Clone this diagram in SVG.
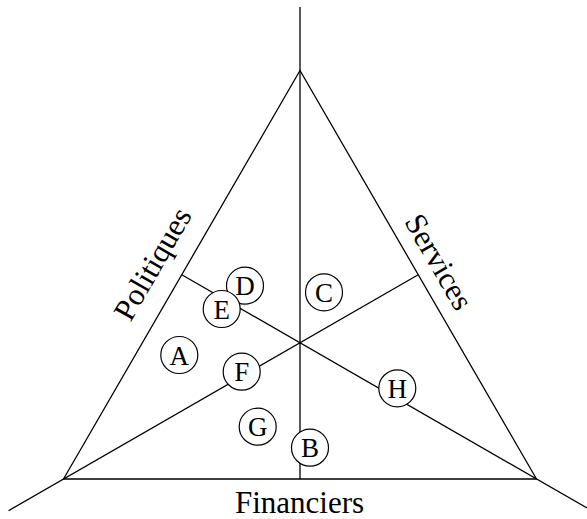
<svg xmlns="http://www.w3.org/2000/svg" width="587" height="519" viewBox="0 0 587 519">
<style>
.ln{stroke:#000;stroke-width:1.3;fill:none}
.cir{fill:#fff;stroke:#000;stroke-width:1.2}
.t{font-family:"Times New Roman","Liberation Serif",serif;text-anchor:middle;fill:#000}
</style>
<rect width="587" height="519" fill="#fff"/>
<g id="connectors">
<polygon class="ln" points="300,70.5 63.5,479 536.5,479"/>
<line class="ln" x1="300" y1="7" x2="300" y2="479"/>
<line class="ln" x1="8.5" y1="510.7" x2="418.2" y2="274.8"/>
<line class="ln" x1="587" y1="508" x2="181.8" y2="274.8"/>
</g>
<g id="labels">
<text class="t" font-size="31" transform="translate(161.5,269) rotate(-60)">Politiques</text>
<text class="t" font-size="31" transform="translate(430,267) rotate(60)">Services</text>
<text class="t" font-size="31" x="299.5" y="513">Financiers</text>
</g>
<g id="node-A"><circle class="cir" cx="179.3" cy="355" r="18.5"/><text class="t" font-size="27" x="179.3" y="364.5">A</text></g>
<g id="node-B"><circle class="cir" cx="310" cy="447.7" r="18.5"/><text class="t" font-size="27" x="310" y="457.2">B</text></g>
<g id="node-C"><circle class="cir" cx="324" cy="292.3" r="18.5"/><text class="t" font-size="27" x="324" y="301.8">C</text></g>
<g id="node-D"><circle class="cir" cx="245" cy="285.7" r="18.5"/><text class="t" font-size="27" x="245" y="295.2">D</text></g>
<g id="node-E"><circle class="cir" cx="221.7" cy="309" r="18.5"/><text class="t" font-size="27" x="221.7" y="318.5">E</text></g>
<g id="node-F"><circle class="cir" cx="241.7" cy="371.7" r="18.5"/><text class="t" font-size="27" x="241.7" y="381.2">F</text></g>
<g id="node-G"><circle class="cir" cx="257.7" cy="426.7" r="18.5"/><text class="t" font-size="27" x="257.7" y="436.2">G</text></g>
<g id="node-H"><circle class="cir" cx="397.3" cy="388.3" r="18.5"/><text class="t" font-size="27" x="397.3" y="397.8">H</text></g>
</svg>
